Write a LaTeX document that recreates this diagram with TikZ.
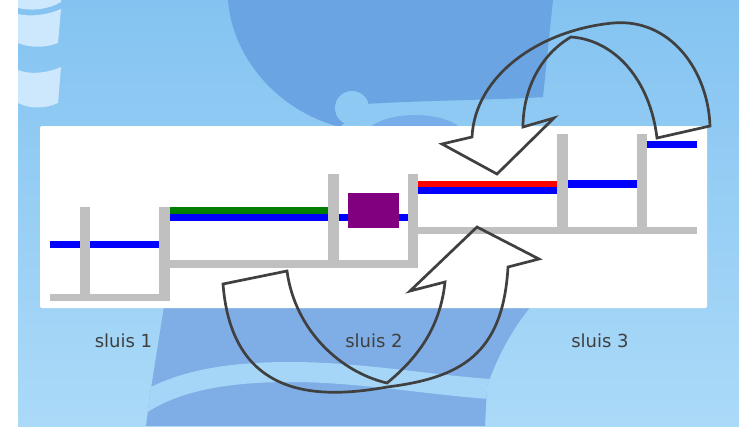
\documentclass[tikz,border=0pt]{standalone}
\usepackage{xcolor}
\usepackage{tikz}
\usepackage{fontspec}
\setmainfont{DejaVu Sans}

\definecolor{skytop}{HTML}{84C3F1}
\definecolor{skybottom}{HTML}{ABDAF8}
\definecolor{blobblue}{HTML}{6BA4E3}
\definecolor{humpblue}{HTML}{77ADE8}
\definecolor{deepblue}{HTML}{7FAEE6}
\definecolor{bandblue}{HTML}{A6D6F7}
\definecolor{paleblue}{HTML}{CDE8FC}
\definecolor{wallgray}{HTML}{C0C0C0}
\definecolor{arrowgray}{HTML}{404040}
\definecolor{labelgray}{HTML}{3F3F3F}
\definecolor{shippurple}{HTML}{800080}

\begin{document}
\begin{tikzpicture}[x=1pt, y=-1pt,
    wall/.style={fill=wallgray},
    water/.style={fill=blue},
    swing/.style={draw=arrowgray, line width=2.7pt, line join=miter, miter limit=10},
    sluislabel/.style={text=labelgray, font=\fontsize{18}{20}\selectfont, anchor=base}]
\useasboundingbox (0,0) rectangle (739,426);

% backdrop
\fill[white] (0,0) rectangle (739,426);
\fill[top color=skytop, bottom color=skybottom] (18,0) rectangle (739,426);
\fill[paleblue] (18,0) -- (61,0) -- (61,2) .. controls (48,10) and (30,11) .. (18,8) -- cycle;
\fill[paleblue] (18,14) .. controls (30,17) and (48,15) .. (61,9) -- (58,43) .. controls (45,48) and (30,48) .. (18,43) -- cycle;
\fill[paleblue] (18,70) .. controls (30,75) and (48,73) .. (61,67) -- (58,103) .. controls (45,109) and (30,109) .. (18,103) -- cycle;
\fill[blobblue] (228,0) .. controls (232,55) and (275,110) .. (340,127) -- (365,104)
    .. controls (430,100) and (500,100) .. (543,97) -- (553,0) -- cycle;
\fill[skytop!75!skybottom] (352,108) circle[radius=17pt];
\fill[humpblue] (415,137) ellipse[x radius=50pt, y radius=22pt];
\begin{scope}
  \clip (165,300) -- (150,395) -- (146,426) -- (485,426) -- (487,386)
      .. controls (500,350) and (515,325) .. (536,300) -- cycle;
  \fill[deepblue] (140,300) rectangle (540,426);
  \draw[bandblue, line width=20pt] (143,403) .. controls (175,383) and (220,372) .. (290,372)
      .. controls (360,372) and (430,385) .. (490,389);
\end{scope}

% panel
\fill[white, rounded corners=2pt] (40,126) rectangle (707,308);

% water levels
\fill[water] (50,240.5) rectangle (159,247.5);
\fill[green!50!black] (170,207) rectangle (328,214);
\fill[water] (170,214) rectangle (328,221);
\fill[water] (339,214) rectangle (408,221);
\fill[red] (418,180.5) rectangle (557,187);
\fill[water] (418,187) rectangle (557,194);
\fill[water] (568,180) rectangle (637,188);
\fill[water] (647,141) rectangle (697,148);

% bottoms and gates
\fill[wall] (50,294) rectangle (170,301);
\fill[wall] (170,260) rectangle (418,268);
\fill[wall] (418,227) rectangle (697,234);
\foreach \xa/\xb/\ya/\yb in {80/90/207/301, 159/170/207/301, 328/339/174/268,
    408/418/174/268, 557/568/134/234, 637/647/134/234}
  \fill[wall] (\xa,\ya) rectangle (\xb,\yb);

% ship
\fill[shippurple] (348,193) rectangle (399,228);

% lower arrow
\draw[swing] (223,284) -- (287,271)
  .. controls (295,330) and (340,372) .. (387,383)
  .. controls (415,360) and (440,330) .. (445,282)
  -- (410,291) -- (477,227) -- (539,259) -- (508,267)
  .. controls (503,355) and (460,378) .. (387,387)
  .. controls (320,399) and (232,400) .. (223,284)
  -- cycle;

% upper arrow
\draw[swing] (710,126) -- (657,138)
  .. controls (650,80) and (615,40) .. (571,37)
  .. controls (540,55) and (523,90) .. (523,127)
  -- (554,118) -- (497,174) -- (442,144) -- (472,137)
  .. controls (475,75) and (540,30) .. (613,23)
  .. controls (670,18) and (708,70) .. (710,126)
  -- cycle;

% labels
\foreach \x/\n in {123.5/1, 374/2, 600/3}
  \node[sluislabel] (sluis\n) at (\x,347) {sluis \n};
\end{tikzpicture}
\end{document}
